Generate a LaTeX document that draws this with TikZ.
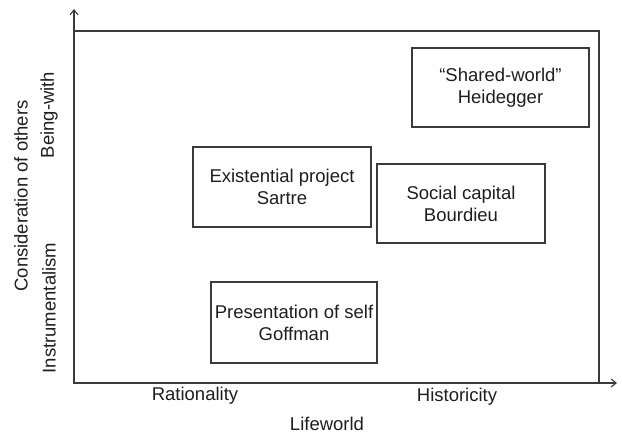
\documentclass[tikz,border=0pt]{standalone}
\usepackage{fontspec}
\setmainfont{Liberation Sans}
\usetikzlibrary{arrows.meta}
\definecolor{linegrey}{HTML}{3A3A3A}
\definecolor{textgrey}{HTML}{1E1E1E}
\begin{document}
\begin{tikzpicture}[x=1pt,y=-1pt,
  every node/.style={text=textgrey,font=\fontsize{18.5}{22}\selectfont,inner sep=0pt},
  conceptbox/.style={draw=linegrey,line width=1.1pt,align=center},
  axis/.style={draw=linegrey,line width=1.1pt,-{Straight Barb[length=5pt,width=8pt,line width=1.1pt]}},
  frame/.style={draw=linegrey,line width=1.1pt}]
\useasboundingbox (0,0) rectangle (622,434);
\coordinate (O) at (74,383);
\coordinate (ytip) at (74,9);
\coordinate (xtip) at (617,383);
\coordinate (TR) at (599,31);
\draw[frame] (O) rectangle (TR);
\draw[axis] (O) -- (ytip);
\draw[axis] (O) -- (xtip);
\node[conceptbox,minimum width=177pt,minimum height=79pt] (heid) at (500.5,87.5) {``Shared-world''\\Heidegger};
\node[conceptbox,minimum width=168pt,minimum height=79pt] (bour) at (461,203.5) {Social capital\\Bourdieu};
\node[conceptbox,minimum width=178pt,minimum height=80pt] (sart) at (282,187) {Existential project\\Sartre};
\node[conceptbox,minimum width=166pt,minimum height=81pt] (goff) at (294,322.5) {Presentation of self\\Goffman};
\node (rat) at (195,396) {Rationality};
\node (hist) at (457,397) {Historicity};
\node (life) at (327,424) {Lifeworld};
\node[rotate=90] (being) at (49,115) {Being-with};
\node[rotate=90] (instr) at (49,308) {Instrumentalism};
\node[rotate=90] (cons) at (21,196) {Consideration of others};
\end{tikzpicture}
\end{document}
